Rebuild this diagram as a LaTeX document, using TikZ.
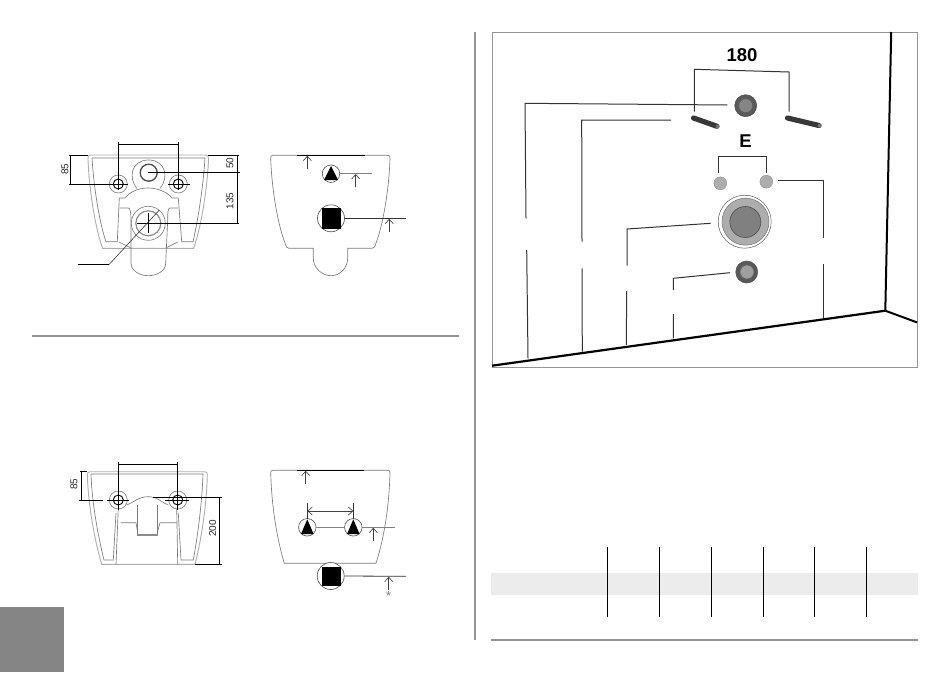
\documentclass[tikz,border=0pt]{standalone}
\usepackage{fontspec}
\setmainfont{Liberation Sans}
\usetikzlibrary{arrows.meta}
\definecolor{wc}{gray}{0.48}
\definecolor{band}{HTML}{EBECEB}
\tikzset{
  px/.style={x=1pt,y=-1pt},
  outline/.style={draw=wc,line width=0.65pt},
  outerline/.style={draw=black!32,line width=0.9pt},
  dim/.style={draw=black,line width=0.9pt},
  thin dim/.style={draw=black!80,line width=0.8pt},
  arrowup/.style={draw=black!75,line width=0.65pt,-{Straight Barb[length=4.5pt,width=8pt]}},
  arrowboth/.style={draw=black!75,line width=0.65pt,{Straight Barb[length=4.5pt,width=8pt]}-{Straight Barb[length=4.5pt,width=8pt]}},
  num/.style={font=\fontsize{10}{12}\selectfont,inner sep=0pt,text=black!85},
  bignum/.style={font=\bfseries\fontsize{18.5}{20}\selectfont,inner sep=0pt},
  leader/.style={draw=black!80,line width=1pt},
  rule/.style={draw=black!42,line width=2pt},
  stud/.style={line width=5.2pt,draw=black!78,line cap=round},
  holeO/.style={circle,draw=wc,line width=0.6pt,minimum size=18pt,inner sep=0pt,fill=white},
  holeI/.style={circle,draw=black,line width=0.9pt,minimum size=10pt,inner sep=0pt},
  ringS/.style={circle,draw=black!70,line width=0.6pt,minimum size=17.5pt,inner sep=0pt,fill=white},
  ringB/.style={circle,draw=black!70,line width=0.6pt,minimum size=27pt,inner sep=0pt,fill=white},
  spot/.style={circle,fill=black!32,draw=black!45,line width=0.3pt,minimum size=13pt,inner sep=0pt},
}
\begin{document}
\begin{tikzpicture}[px]
\useasboundingbox (0,0) rectangle (950,672);
\fill[black!48] (0,607) rectangle (64,672);
\draw[rule] (32,336) -- (459,336);
\draw[rule] (475,32) -- (475,640);
\draw[rule] (491,640) -- (918,640);

% ---- top-left drawing ----
\draw[outerline] (90,155) -- (206,155) .. controls (208,155) and (208.5,157) .. (208.5,159) .. controls (207.5,190) and (200,232) .. (193.5,248.3) -- (102.7,248.3) .. controls (96,232) and (89,190) .. (88,159) .. controls (88,157) and (88,155) .. (90,155);
\draw[outline] (92,158) -- (205,158) .. controls (203,190) and (197,225) .. (193,241.7) -- (181.7,241.7) -- (178.3,198);
\draw[outline] (92,158) .. controls (94,190) and (100,225) .. (106,241.7) -- (117.3,241.7) -- (119.3,198);
\draw[outline] (119.3,198) -- (125,198) .. controls (130,192) and (138,188) .. (148,188) .. controls (158,188) and (167,192) .. (172,198) -- (178.3,198);
\draw[outline] (119.3,208) -- (128.3,208) .. controls (130,208) and (131,212) .. (131,220) -- (131,263) .. controls (131,271) and (140,275.7) .. (148.3,275.7) .. controls (157,275.7) and (165.7,271) .. (165.7,263) -- (167.7,220) .. controls (167.7,212) and (168,208) .. (170,208) -- (178,208);
\draw[outline] (119,242) -- (131,248) (165.7,248) -- (178,242);
\draw[outline] (137,188.5) .. controls (128,178) and (131,160) .. (148.5,160) .. controls (166,160) and (169,178) .. (160,188.5);
\node[circle,draw=black!70,line width=1.3pt,minimum size=17pt,inner sep=0pt,fill=white] (pipeA) at (148.7,172.7) {};
\foreach \n/\x in {lugA/118.3,lugB/178.3}{
  \node[holeO] (\n) at (\x,184) {};
  \node[holeI] at (\x,184) {};
}
\node[circle,draw=wc,line width=0.6pt,minimum size=34pt,inner sep=0pt,fill=white] (drainA) at (148.3,223.3) {};
\node[circle,draw=black!45,line width=1.2pt,minimum size=25pt,inner sep=0pt] at (148.3,223.3) {};
% dimensions
\draw[dim] (118.3,141.7) -- (118.3,190) (178.3,141.7) -- (178.3,190);
\draw[dim] (118.3,144) -- (178.3,144);
\draw[dim] (69,184) -- (128.3,184) (168.3,184) -- (190,184);
\draw[dim] (69,155) -- (88,155) (70.7,155) -- (70.7,184);
\draw[dim] (148,172.7) -- (240,172.7) (208,155) -- (239,155) (136.7,223.3) -- (239,223.3) (148.3,213) -- (148.3,233);
\draw[dim] (237.3,155) -- (237.3,223.3);
\draw[draw=black!80,line width=0.6pt] (159.3,210) -- (109.3,264.3);
\draw[dim] (78.3,264.3) -- (109.3,264.3);
\node[num,rotate=90] (t85a) at (65,169) {85};
\node[num,rotate=90] (t50) at (230,163) {50};
\node[num,rotate=90] (t135) at (230,201) {135};

% ---- top-right drawing ----
\draw[outline] (273,155.3) -- (387.5,155.3) .. controls (389.5,155.3) and (390,156) .. (390,158) .. controls (389,190) and (383,225) .. (376,243) .. controls (375,247) and (374,248.3) .. (372,248.3) -- (347.7,248.3) -- (347.7,258) .. controls (347.7,268) and (340,275.7) .. (331,275.7) .. controls (322,275.7) and (313.3,268) .. (313.3,258) -- (313.3,248.3) -- (289,248.3) .. controls (287,248.3) and (286,247) .. (285,243) .. controls (278,225) and (271.7,190) .. (270.7,158) .. controls (270.7,156) and (271,155.3) .. (273,155.3);
\draw[line width=1.1pt,black] (296.7,155.3) -- (365,155.3);
\node[ringS] (cA) at (331,173.7) {};
\fill[black] (324,180) -- (331,166) -- (338,180) -- cycle;
\draw[draw=black!50,line width=1.5pt] (cA.east) -- (372.3,173.7);
\node[ringB] (cB) at (331,218.3) {};
\fill[black] (321.7,208.3) rectangle (341,228.5);
\draw[thin dim] (cB.east) -- (406,218.3);
\draw[arrowup] (307.3,169) -- (307.3,155.7);
\draw[arrowup] (355.7,187.3) -- (355.7,174);
\draw[arrowup] (389.3,231.7) -- (389.3,218.7);

% ---- bottom-left drawing ----
\draw[outerline] (90,471.7) -- (205,471.7) .. controls (207,471.7) and (207.3,473) .. (207.3,475) .. controls (206.5,510) and (200,545) .. (195,564.3) -- (101.7,564.3) .. controls (96,545) and (88.5,510) .. (87.3,475) .. controls (87.3,473) and (88,471.7) .. (90,471.7);
\draw[outline] (91,474) -- (203,474) .. controls (202,505) and (197,540) .. (193.3,560) -- (181,560) -- (178.3,513) (91,474) .. controls (92,505) and (99,540) .. (104,560) -- (113.3,560) -- (116,513);
\draw[outline] (116,564.3) -- (118.3,508) (177.7,564.3) -- (176.7,508);
\draw[outline] (126.7,505) .. controls (133,503) and (138,496.7) .. (148.3,496.7) .. controls (158,496.7) and (162,503) .. (168.3,505);
\draw[outline] (120.7,522.7) -- (136,522.7) -- (137.3,530) (158,530) -- (160,522.7) -- (176.7,522.7);
\draw[outline] (137.3,505) -- (137.3,535) (157.7,505) -- (157.7,535);
\draw[draw=black!45,line width=1.1pt] (137.3,535) -- (157.7,535);
\foreach \n/\x in {lugC/118.3,lugD/177.7}{
  \node[holeO] (\n) at (\x,500) {};
  \node[holeI] at (\x,500) {};
}
\draw[dim] (118.3,461.7) -- (118.3,510) (177.7,461.7) -- (177.7,510);
\draw[dim] (118.3,464) -- (177.7,464);
\draw[dim] (107.3,500) -- (129.3,500) (165,500) -- (189.3,500);
\draw[dim] (79.3,500) -- (102.7,500) (80,471.7) -- (87,471.7) (81.7,471.7) -- (81.7,500);
\draw[dim] (195,564.3) -- (221.7,564.3) (219.3,497.3) -- (219.3,564.3) (153.3,497.3) -- (221.7,497.3);
\node[num,rotate=90] (t85b) at (74,484) {85};
\node[num,rotate=90] (t200) at (212.7,528.3) {200};

% ---- bottom-right drawing ----
\draw[outline] (273,470.3) -- (387.5,470.3) .. controls (389.5,470.3) and (390,471) .. (390,473) .. controls (389,505) and (385,535) .. (376,563.3) -- (284.3,563.3) .. controls (276,535) and (271.7,505) .. (270.7,473) .. controls (270.7,471) and (271,470.3) .. (273,470.3);
\draw[line width=1.1pt,black] (296.7,470.3) -- (364,470.3);
\node[ringS] (cC) at (307.3,527.3) {};
\node[ringS] (cD) at (353.3,527.3) {};
\fill[black] (301,534) -- (307.3,519.3) -- (313.6,534) -- cycle;
\fill[black] (347,534) -- (353.3,519.3) -- (359.6,534) -- cycle;
\draw[draw=black!50,line width=1pt] (cC.east) -- (cD.west) (cD.east) -- (395,527.3);
\node[ringB] (cE) at (330.7,576) {};
\fill[black] (321.7,566.5) rectangle (340.7,585.7);
\draw[thin dim] (cE.east) -- (406,576.3);
\draw[thin dim] (307.3,502.7) -- (307.3,519.3) (353.3,502.7) -- (353.3,519.3);
\draw[arrowboth] (307.3,511) -- (353.3,511);
\draw[arrowup] (305.7,484.3) -- (305.7,470.7);
\draw[arrowup] (373.3,541) -- (373.3,527.7);
\draw[arrowup] (388.7,590) -- (388.7,576.7);
\node[inner sep=0pt,text=black!50,font=\fontsize{13}{14}\selectfont] (star) at (388.7,596.5) {*};

% ---- right panel ----
\draw[draw=black!42,line width=0.9pt] (492,32) rectangle (917.5,367.5);
\draw[line width=2.2pt,draw=black] (492,365.7) -- (885.3,310.7);
\draw[line width=2pt,draw=black] (885.3,310.7) -- (917,322.4);
\draw[line width=2pt,draw=black] (891.2,32) -- (885.3,310.7);
\node[bignum] (t180) at (742,55) {180};
\node[bignum] (tE) at (745.5,141.5) {E};
\draw[leader] (694.3,111.7) -- (694.3,69.3) -- (789,72) -- (789,111.7);
\draw[stud] (693.5,118) -- (717,126.3);
\draw[stud] (787.5,118) -- (819,125.5);
\fill[black!55] (717.5,126.5) circle (2pt) (819.5,125.7) circle (2pt);
\draw[leader] (718.3,173.3) -- (718.3,156.7) -- (766.7,156.7) -- (766.7,173.3);
\node[spot] (dotL) at (720.3,183.3) {};
\node[spot] (dotR) at (766.3,181.7) {};
% fittings
\node[circle,draw=black!70,fill=black!65,line width=0.5pt,minimum size=22pt,inner sep=0pt] (fitT) at (745.7,105.7) {};
\node[circle,draw=black!65,fill=black!48,line width=0.5pt,minimum size=14pt,inner sep=0pt] at (745.7,105.7) {};
\node[circle,draw=black!65,fill=white,line width=0.5pt,minimum size=53pt,inner sep=0pt] (fitM) at (744.7,221.7) {};
\node[circle,draw=black!55,fill=black!32,line width=0.5pt,minimum size=47pt,inner sep=0pt] at (745.5,221.7) {};
\node[circle,draw=black!70,fill=black!50,line width=0.6pt,minimum size=31pt,inner sep=0pt] at (745.3,222) {};
\node[circle,draw=black!70,fill=black!65,line width=0.5pt,minimum size=22pt,inner sep=0pt] (fitB) at (746.7,272) {};
\node[circle,draw=black!65,fill=black!38,line width=0.5pt,minimum size=14pt,inner sep=0pt] at (747,272) {};
% leaders
\coordinate (a1) at (727.3,105);
\coordinate (a2) at (525,103.3);
\coordinate (b1) at (671,120);
\coordinate (b2) at (581.7,120);
\coordinate (c1) at (710.7,223.3);
\coordinate (c2) at (627,229);
\coordinate (d1) at (730,272.7);
\coordinate (d2) at (673.3,278.3);
\coordinate (e1) at (778.3,180.7);
\coordinate (e2) at (823.3,180.7);
\draw[leader] (a1) -- (a2) -- (526,218.3) (526.7,250) -- (528,358.3);
\draw[leader] (b1) -- (b2) -- (582,241.7) (582,268.3) -- (582.3,351.7);
\draw[leader] (c1) -- (c2) -- (627,265.7) (626.7,291) -- (626.3,345);
\draw[leader] (d1) -- (d2) -- (673.3,290) (673.3,314) -- (673.3,338.3);
\draw[leader] (e1) -- (e2) -- (823.3,238.3) (823.3,264) -- (823.3,318.3);

% ---- table ----
\fill[band] (491,572.7) rectangle (918,595);
\foreach \x in {607.3,659.3,711.3,763.3,814.3,866.3}
  \draw[line width=1pt,black] (\x,547) -- (\x,616.7);
\end{tikzpicture}
\end{document}
